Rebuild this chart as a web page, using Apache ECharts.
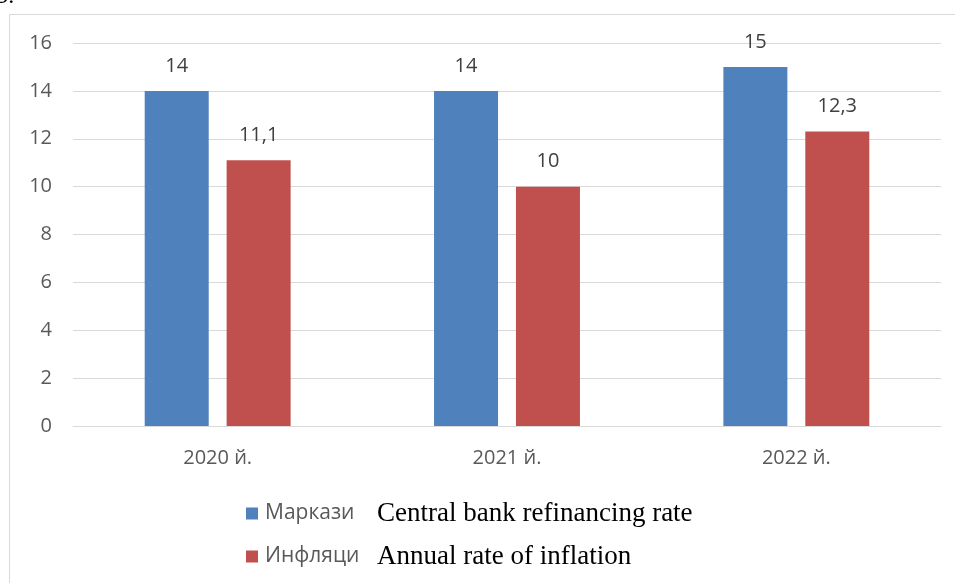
<!DOCTYPE html>
<html><head><meta charset="utf-8">
<script src="https://cdn.jsdelivr.net/npm/echarts@6/dist/echarts.min.js"></script>
<style>html,body{margin:0;padding:0;background:#fff}#c{width:955px;height:583px}</style>
</head><body><div id="c"></div>
<script>
const categories = ['2020 й.', '2021 й.', '2022 й.'];
const seriesNames = ['Маркази', 'Инфляци'];
const seriesEnglish = ['Central bank refinancing rate', 'Annual rate of inflation'];
const refinancingRate = [14, 14, 15];
const inflationRate = [11.1, 10, 12.3];
const yTicks = {min: 0, max: 16, interval: 2};
const colors = ['#4f81bd', '#c0504d'];

const chart = echarts.init(document.getElementById('c'));
const labelCfg = {
  show: true, position: 'top', distance: 15,
  color: '#404040', fontFamily: 'Open Sans', fontSize: 20,
  formatter: p => String(p.value).replace('.', ',')
};
function legendFor(i, top) {
  return {
    data: [seriesNames[i]], left: 241, top: top, orient: 'vertical',
    itemWidth: 12, itemHeight: 12, itemGap: 0, icon: 'rect',
    formatter: n => '{a|' + n + '}{b|' + seriesEnglish[i] + '}',
    textStyle: {
      rich: {
        a: {fontFamily: 'Open Sans', fontSize: 21, color: '#595959', width: 112, padding: [0, 0, 0, 2]},
        b: {fontFamily: 'Liberation Serif', fontSize: 27, color: '#000'}
      }
    }
  };
}
chart.setOption({
  animation: false,
  graphic: [
    {type: 'rect', shape: {x: 9.5, y: 14.5, width: 1000, height: 1000},
     style: {fill: 'none', stroke: '#d9d9d9', lineWidth: 1}, silent: true},
    {type: 'text', left: -2, top: -15, style: {text: 'э.', fontFamily: 'Liberation Serif', fontSize: 24, fill: '#000'}}
  ],
  legend: [legendFor(0, 495), legendFor(1, 538)],
  grid: {left: 73, right: 14, top: 43, bottom: 157},
  xAxis: {
    type: 'category', data: categories,
    axisLine: {lineStyle: {color: '#d9d9d9', width: 1}},
    axisTick: {show: false},
    axisLabel: {color: '#595959', fontFamily: 'Open Sans', fontSize: 20, margin: 22}
  },
  yAxis: {
    type: 'value', min: yTicks.min, max: yTicks.max, interval: yTicks.interval,
    axisLine: {show: false}, axisTick: {show: false},
    splitLine: {lineStyle: {color: '#d9d9d9', width: 1}},
    axisLabel: {color: '#595959', fontFamily: 'Open Sans', fontSize: 20, margin: 21}
  },
  series: [
    {name: seriesNames[0], type: 'bar', data: refinancingRate, barWidth: 64, barGap: '28%',
     itemStyle: {color: colors[0]}, label: labelCfg},
    {name: seriesNames[1], type: 'bar', data: inflationRate, barWidth: 64, barGap: '28%',
     itemStyle: {color: colors[1]}, label: labelCfg}
  ]
});
</script></body></html>
